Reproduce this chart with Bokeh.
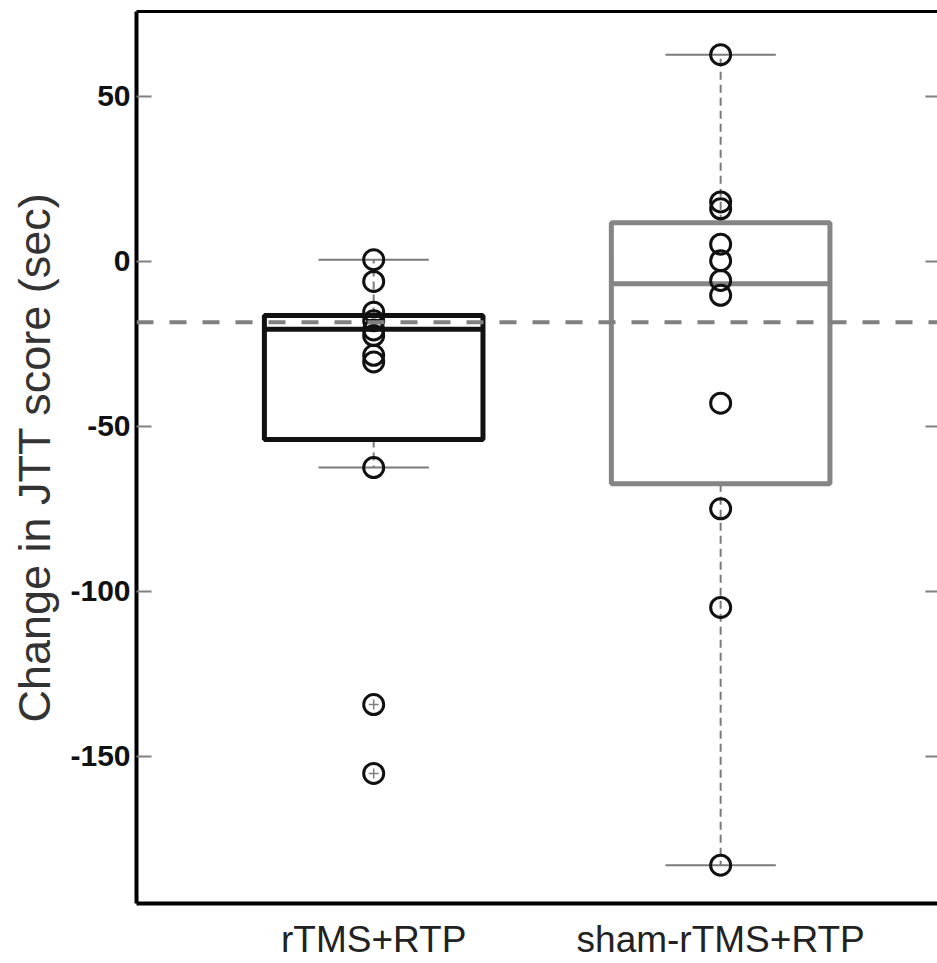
from bokeh.plotting import figure
from bokeh.models import LinearAxis, FixedTicker, Span, Range1d, CustomLabelingPolicy
from bokeh.embed import file_html
from bokeh.resources import INLINE

# ---- data ----
groups = ["rTMS+RTP", "sham-rTMS+RTP"]
group_x = [1, 2]
q1 = [-54.0, -67.4]
medians = [-20.6, -6.8]
q3 = [-16.4, 11.7]
whisker_low = [-62.5, -183.0]
whisker_high = [0.5, 62.6]
rtms_points = [0.5, -6.1, -15.4, -18.0, -20.8, -22.5, -28.5, -30.5, -62.5, -134.3, -155.2]
sham_points = [62.6, 18.0, 15.9, 5.2, 0.2, -5.8, -10.3, -43.0, -75.0, -104.9, -183.0]
reference_line = -18.5
y_ticks = [-150, -100, -50, 0, 50]
y_tick_labels = ["-150", "-100", "-50", "0", "50"]

box_colors = ["#111111", "#858585"]
box_width = 0.63
cap_half = 0.159
whisker_color = "#7a7a7a"

no_labels = CustomLabelingPolicy(code="""
for (const i of indices) { indices.unset(i) }
return indices
""")

p = figure(width=937, height=963, output_backend="svg", toolbar_location=None,
           x_range=Range1d(0.3164, 2.625), y_range=Range1d(-194.6, 75.7),
           min_border_left=136, min_border_right=0, min_border_top=11, min_border_bottom=60)
p.grid.visible = False
p.outline_line_color = None
p.background_fill_color = "white"
p.border_fill_color = "white"

# left axis
ya = p.yaxis[0]
ya.ticker = FixedTicker(ticks=y_ticks)
ya.major_label_overrides = {t: s for t, s in zip(y_ticks, y_tick_labels)}
ya.axis_line_width = 4
ya.axis_line_color = "black"
ya.major_tick_in = 15
ya.major_tick_out = 0
ya.major_tick_line_color = "#808080"
ya.major_tick_line_width = 2
ya.minor_tick_line_color = None
ya.major_label_text_font = "Liberation Sans"
ya.major_label_text_font_style = "bold"
ya.major_label_text_font_size = "30px"
ya.major_label_text_color = "#111111"
ya.major_label_standoff = 6
ya.axis_label = "Change in JTT score (sec)"
ya.axis_label_text_font = "Liberation Sans"
ya.axis_label_text_font_style = "normal"
ya.axis_label_text_font_size = "45px"
ya.axis_label_text_color = "#333333"
ya.axis_label_standoff = 7

# bottom axis
xa = p.xaxis[0]
xa.ticker = FixedTicker(ticks=group_x)
xa.major_label_overrides = {gx: g for gx, g in zip(group_x, groups)}
xa.axis_line_width = 4
xa.axis_line_color = "black"
xa.major_tick_in = 0
xa.major_tick_out = 0
xa.minor_tick_line_color = None
xa.major_label_text_font = "Liberation Sans"
xa.major_label_text_font_size = "37px"
xa.major_label_text_color = "#222222"
xa.major_label_standoff = 15

# top frame line
top = LinearAxis(ticker=FixedTicker(ticks=[]), axis_line_width=3, axis_line_color="black",
                 major_tick_in=0, major_tick_out=0, minor_tick_in=0, minor_tick_out=0,
                 major_label_policy=no_labels, major_label_text_font_size="0px",
                 major_label_standoff=0)
p.add_layout(top, "above")

# right ticks only
right = LinearAxis(ticker=FixedTicker(ticks=y_ticks), axis_line_color=None,
                   major_tick_in=12, major_tick_out=0, major_tick_line_color="#808080",
                   major_tick_line_width=2, minor_tick_line_color=None,
                   major_label_policy=no_labels, major_label_text_font_size="0px",
                   major_label_standoff=0)
p.add_layout(right, "right")

# whiskers
p.segment(x0=group_x, y0=q3, x1=group_x, y1=whisker_high, line_color=whisker_color,
          line_width=2, line_dash="8 5")
p.segment(x0=group_x, y0=q1, x1=group_x, y1=whisker_low, line_color=whisker_color,
          line_width=2, line_dash="8 5")
# caps
p.segment(x0=[x - cap_half for x in group_x], y0=whisker_high,
          x1=[x + cap_half for x in group_x], y1=whisker_high, line_color=whisker_color, line_width=2)
p.segment(x0=[x - cap_half for x in group_x], y0=whisker_low,
          x1=[x + cap_half for x in group_x], y1=whisker_low, line_color=whisker_color, line_width=2)

# boxes
p.quad(left=[x - box_width / 2 for x in group_x], right=[x + box_width / 2 for x in group_x],
       bottom=q1, top=q3, fill_color=None, line_color=box_colors, line_width=5)
p.segment(x0=[x - box_width / 2 for x in group_x], y0=medians,
          x1=[x + box_width / 2 for x in group_x], y1=medians, line_color=box_colors, line_width=5)

# reference line
p.add_layout(Span(location=reference_line, dimension="width", line_color="#808080",
                  line_width=4, line_dash="17 16"))

# individual points
for gx, pts in zip(group_x, [rtms_points, sham_points]):
    p.scatter(x=[gx] * len(pts), y=pts, marker="circle", size=20, fill_color=None,
              line_color="#111111", line_width=3)

# outliers ('+' markers) beyond whiskers
for gx, pts, lo, hi in zip(group_x, [rtms_points, sham_points], whisker_low, whisker_high):
    out = [v for v in pts if v < lo - 0.5 or v > hi + 0.5]
    if out:
        p.scatter(x=[gx] * len(out), y=out, marker="cross", size=10,
                  line_color="#808080", line_width=1.5)

open("out.html", "w").write(file_html(p, INLINE))
